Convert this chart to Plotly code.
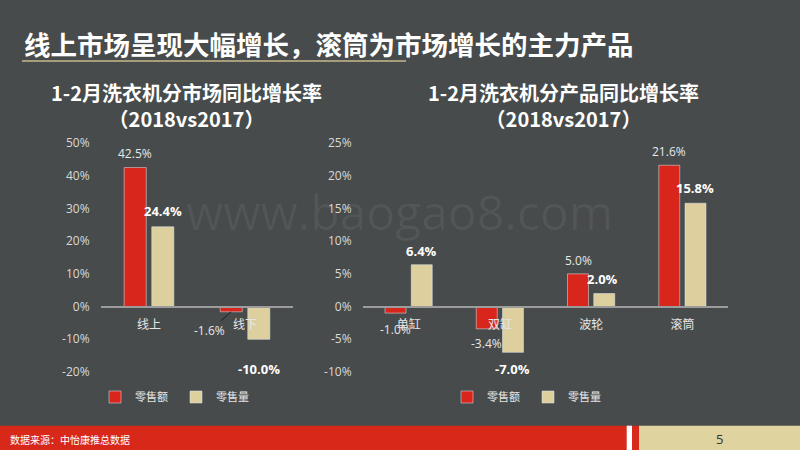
import plotly.graph_objects as go

# ---------------- data ----------------
market_cats = ["线上", "线下"]
market_sales_amt = [42.5, -1.6]   # 零售额
market_sales_vol = [24.4, -10.0]  # 零售量

product_cats = ["单缸", "双缸", "波轮", "滚筒"]
product_sales_amt = [-1.0, -3.4, 5.0, 21.6]
product_sales_vol = [6.4, -7.0, 2.0, 15.8]

series_names = ["零售额", "零售量"]
left_ticks = [-20, -10, 0, 10, 20, 30, 40, 50]
right_ticks = [-10, -5, 0, 5, 10, 15, 20, 25]

main_title = "线上市场呈现大幅增长，滚筒为市场增长的主力产品"
left_title = "1-2月洗衣机分市场同比增长率<br>（2018vs2017）"
right_title = "1-2月洗衣机分产品同比增长率<br>（2018vs2017）"
source_text = "数据来源：中怡康推总数据"
page_no = "5"
watermark = "www.baogao8.com"

# ---------------- style ----------------
W, H = 800, 450
BG = "#474b4b"
RED = "#d9261c"
TAN = "#ddd09e"
CJK = "Noto Sans CJK SC"
NUM = "Open Sans, Noto Sans CJK SC"
BARGAP = 0.425
GROUPGAP = 0.2

top_px, bot_px, zero_px = 143, 372, 306.7
ydom = [1 - bot_px / H, 1 - top_px / H]
x1_px = [101, 293]
x2_px = [363, 728]


def px2x(p):
    return p / W


fig = go.Figure()

# bars
fig.add_trace(go.Bar(x=market_cats, y=market_sales_amt, name=series_names[0],
                     marker_color=RED, xaxis="x", yaxis="y", legend="legend",
                     cliponaxis=False))
fig.add_trace(go.Bar(x=market_cats, y=market_sales_vol, name=series_names[1],
                     marker_color=TAN, xaxis="x", yaxis="y", legend="legend",
                     cliponaxis=False))
fig.add_trace(go.Bar(x=product_cats, y=product_sales_amt, name=series_names[0],
                     marker_color=RED, xaxis="x2", yaxis="y2", legend="legend2",
                     cliponaxis=False))
fig.add_trace(go.Bar(x=product_cats, y=product_sales_vol, name=series_names[1],
                     marker_color=TAN, xaxis="x2", yaxis="y2", legend="legend2",
                     cliponaxis=False))

annotations = []


def bar_offset(px_range, ncat):
    cat_w = (px_range[1] - px_range[0]) / ncat
    return cat_w * (1 - BARGAP) / 4


def add_labels(cats, vals, xref, yref, off, bold, yshifts, xshifts=None, arrow=None):
    for i, (c, v) in enumerate(zip(cats, vals)):
        txt = f"{v:.1f}%"
        xs = off + (xshifts[i] if xshifts else 0)
        if arrow is not None and i in arrow:
            ax, ay = arrow[i]
            annotations.append(dict(
                x=c, y=v, xref=xref, yref=yref, xshift=off, text=txt,
                showarrow=True, arrowhead=0, arrowwidth=1, arrowcolor="#1e1e1e",
                ax=ax, ay=ay,
                font=dict(family=NUM, size=12, color="#e8e8e8",
                          weight="bold" if bold else "normal")))
            continue
        annotations.append(dict(
            x=c, y=v, xref=xref, yref=yref, xshift=xs, yshift=yshifts[i],
            text=txt, showarrow=False,
            font=dict(family=NUM, size=13 if bold else 12,
                      color="#ffffff" if bold else "#e8e8e8",
                      weight="bold" if bold else "normal")))


o1 = bar_offset(x1_px, len(market_cats))
o2 = bar_offset(x2_px, len(product_cats))

add_labels(market_cats, market_sales_amt, "x", "y", -o1, False, [14, 0],
           arrow={1: (-22, 19)})
add_labels(market_cats, market_sales_vol, "x", "y", o1, True, [16, -30])
add_labels(product_cats, product_sales_amt, "x2", "y2", -o2, False, [-16, -15, 13, 14])
add_labels(product_cats, product_sales_vol, "x2", "y2", o2, True, [14, -17, 14, 15],
           xshifts=[0, 0, -2, 0])

# titles and texts
annotations += [
    dict(text=main_title, x=px2x(22), y=1 - 44 / H, xref="paper", yref="paper",
         xanchor="left", yanchor="middle", showarrow=False,
         font=dict(family=CJK, size=26.5, color="#ffffff", weight="bold")),
    dict(text=left_title, x=px2x(186), y=1 - 106 / H, xref="paper", yref="paper",
         xanchor="center", yanchor="middle", showarrow=False, align="center",
         font=dict(family=CJK, size=20, color="#ffffff", weight="bold")),
    dict(text=right_title, x=px2x(563), y=1 - 106 / H, xref="paper", yref="paper",
         xanchor="center", yanchor="middle", showarrow=False, align="center",
         font=dict(family=CJK, size=20, color="#ffffff", weight="bold")),
    dict(text=watermark, x=px2x(399), y=1 - 212 / H, xref="paper", yref="paper",
         xanchor="center", yanchor="middle", showarrow=False,
         font=dict(family="Open Sans", size=48, color="rgba(255,255,255,0.06)")),
    dict(text=source_text, x=px2x(8), y=1 - 439 / H, xref="paper", yref="paper",
         xanchor="left", yanchor="middle", showarrow=False,
         font=dict(family=CJK, size=10, color="#ffffff")),
    dict(text=page_no, x=px2x(719), y=1 - 439 / H, xref="paper", yref="paper",
         xanchor="center", yanchor="middle", showarrow=False,
         font=dict(family=NUM, size=13, color="#333333")),
]

shapes = [
    dict(type="line", xref="paper", yref="paper", x0=px2x(22), x1=px2x(406),
         y0=1 - 61 / H, y1=1 - 61 / H, line=dict(color="#a59d7c", width=2)),
    dict(type="rect", xref="paper", yref="paper", x0=0, x1=px2x(639),
         y0=0, y1=1 - 425.7 / H, fillcolor="#d8281a", line=dict(width=0), layer="below"),
    dict(type="rect", xref="paper", yref="paper", x0=px2x(626.7), x1=px2x(632),
         y0=0, y1=1 - 425.7 / H, fillcolor="#ffffff", line=dict(width=0), layer="below"),
    dict(type="rect", xref="paper", yref="paper", x0=px2x(639), x1=1,
         y0=0, y1=1 - 425.7 / H, fillcolor="#dfd3a0", line=dict(width=0), layer="below"),
]

xaxis_common = dict(type="category", anchor="free", position=1 - zero_px / H,
                    showline=True, linecolor="#9c9c9c", linewidth=2,
                    ticks="outside", ticklen=7, tickcolor="rgba(0,0,0,0)",
                    showgrid=False, zeroline=False, fixedrange=True,
                    tickfont=dict(family=CJK, size=12, color="#e6e6e6"))
yaxis_common = dict(showgrid=False, zeroline=False, showline=False,
                    ticks="outside", ticklen=8, tickcolor="rgba(0,0,0,0)",
                    domain=ydom, fixedrange=True,
                    tickfont=dict(family=NUM, size=12, color="#d9d9d9"))

legend_common = dict(orientation="h", xanchor="center", yanchor="middle",
                     bgcolor="rgba(0,0,0,0)", itemwidth=30,
                     entrywidth=36, entrywidthmode="pixels",
                     font=dict(family=CJK, size=11, color="#e6e6e6"))

fig.update_layout(
    width=W, height=H, autosize=False,
    margin=dict(l=0, r=0, t=0, b=0, pad=0, autoexpand=False),
    paper_bgcolor=BG, plot_bgcolor=BG,
    barmode="group", bargap=BARGAP, bargroupgap=GROUPGAP,
    xaxis=dict(domain=[px2x(x1_px[0]), px2x(x1_px[1])], range=[-0.5, 1.5], **xaxis_common),
    yaxis=dict(anchor="x", range=[-20, 50], tickvals=left_ticks,
               ticktext=[f"{v}%" for v in left_ticks], **yaxis_common),
    xaxis2=dict(domain=[px2x(x2_px[0]), px2x(x2_px[1])], range=[-0.5, 3.5], **xaxis_common),
    yaxis2=dict(anchor="x2", range=[-10, 25], tickvals=right_ticks,
                ticktext=[f"{v}%" for v in right_ticks], **yaxis_common),
    legend=dict(x=px2x(176), y=1 - 397 / H, **legend_common),
    legend2=dict(x=px2x(528), y=1 - 397 / H, **legend_common),
    annotations=annotations,
    shapes=shapes,
    showlegend=True,
)

fig.write_html("out.html",
               config={"displayModeBar": False},
               post_script="document.body.style.margin='0';"
                           "document.body.style.overflow='hidden';")
